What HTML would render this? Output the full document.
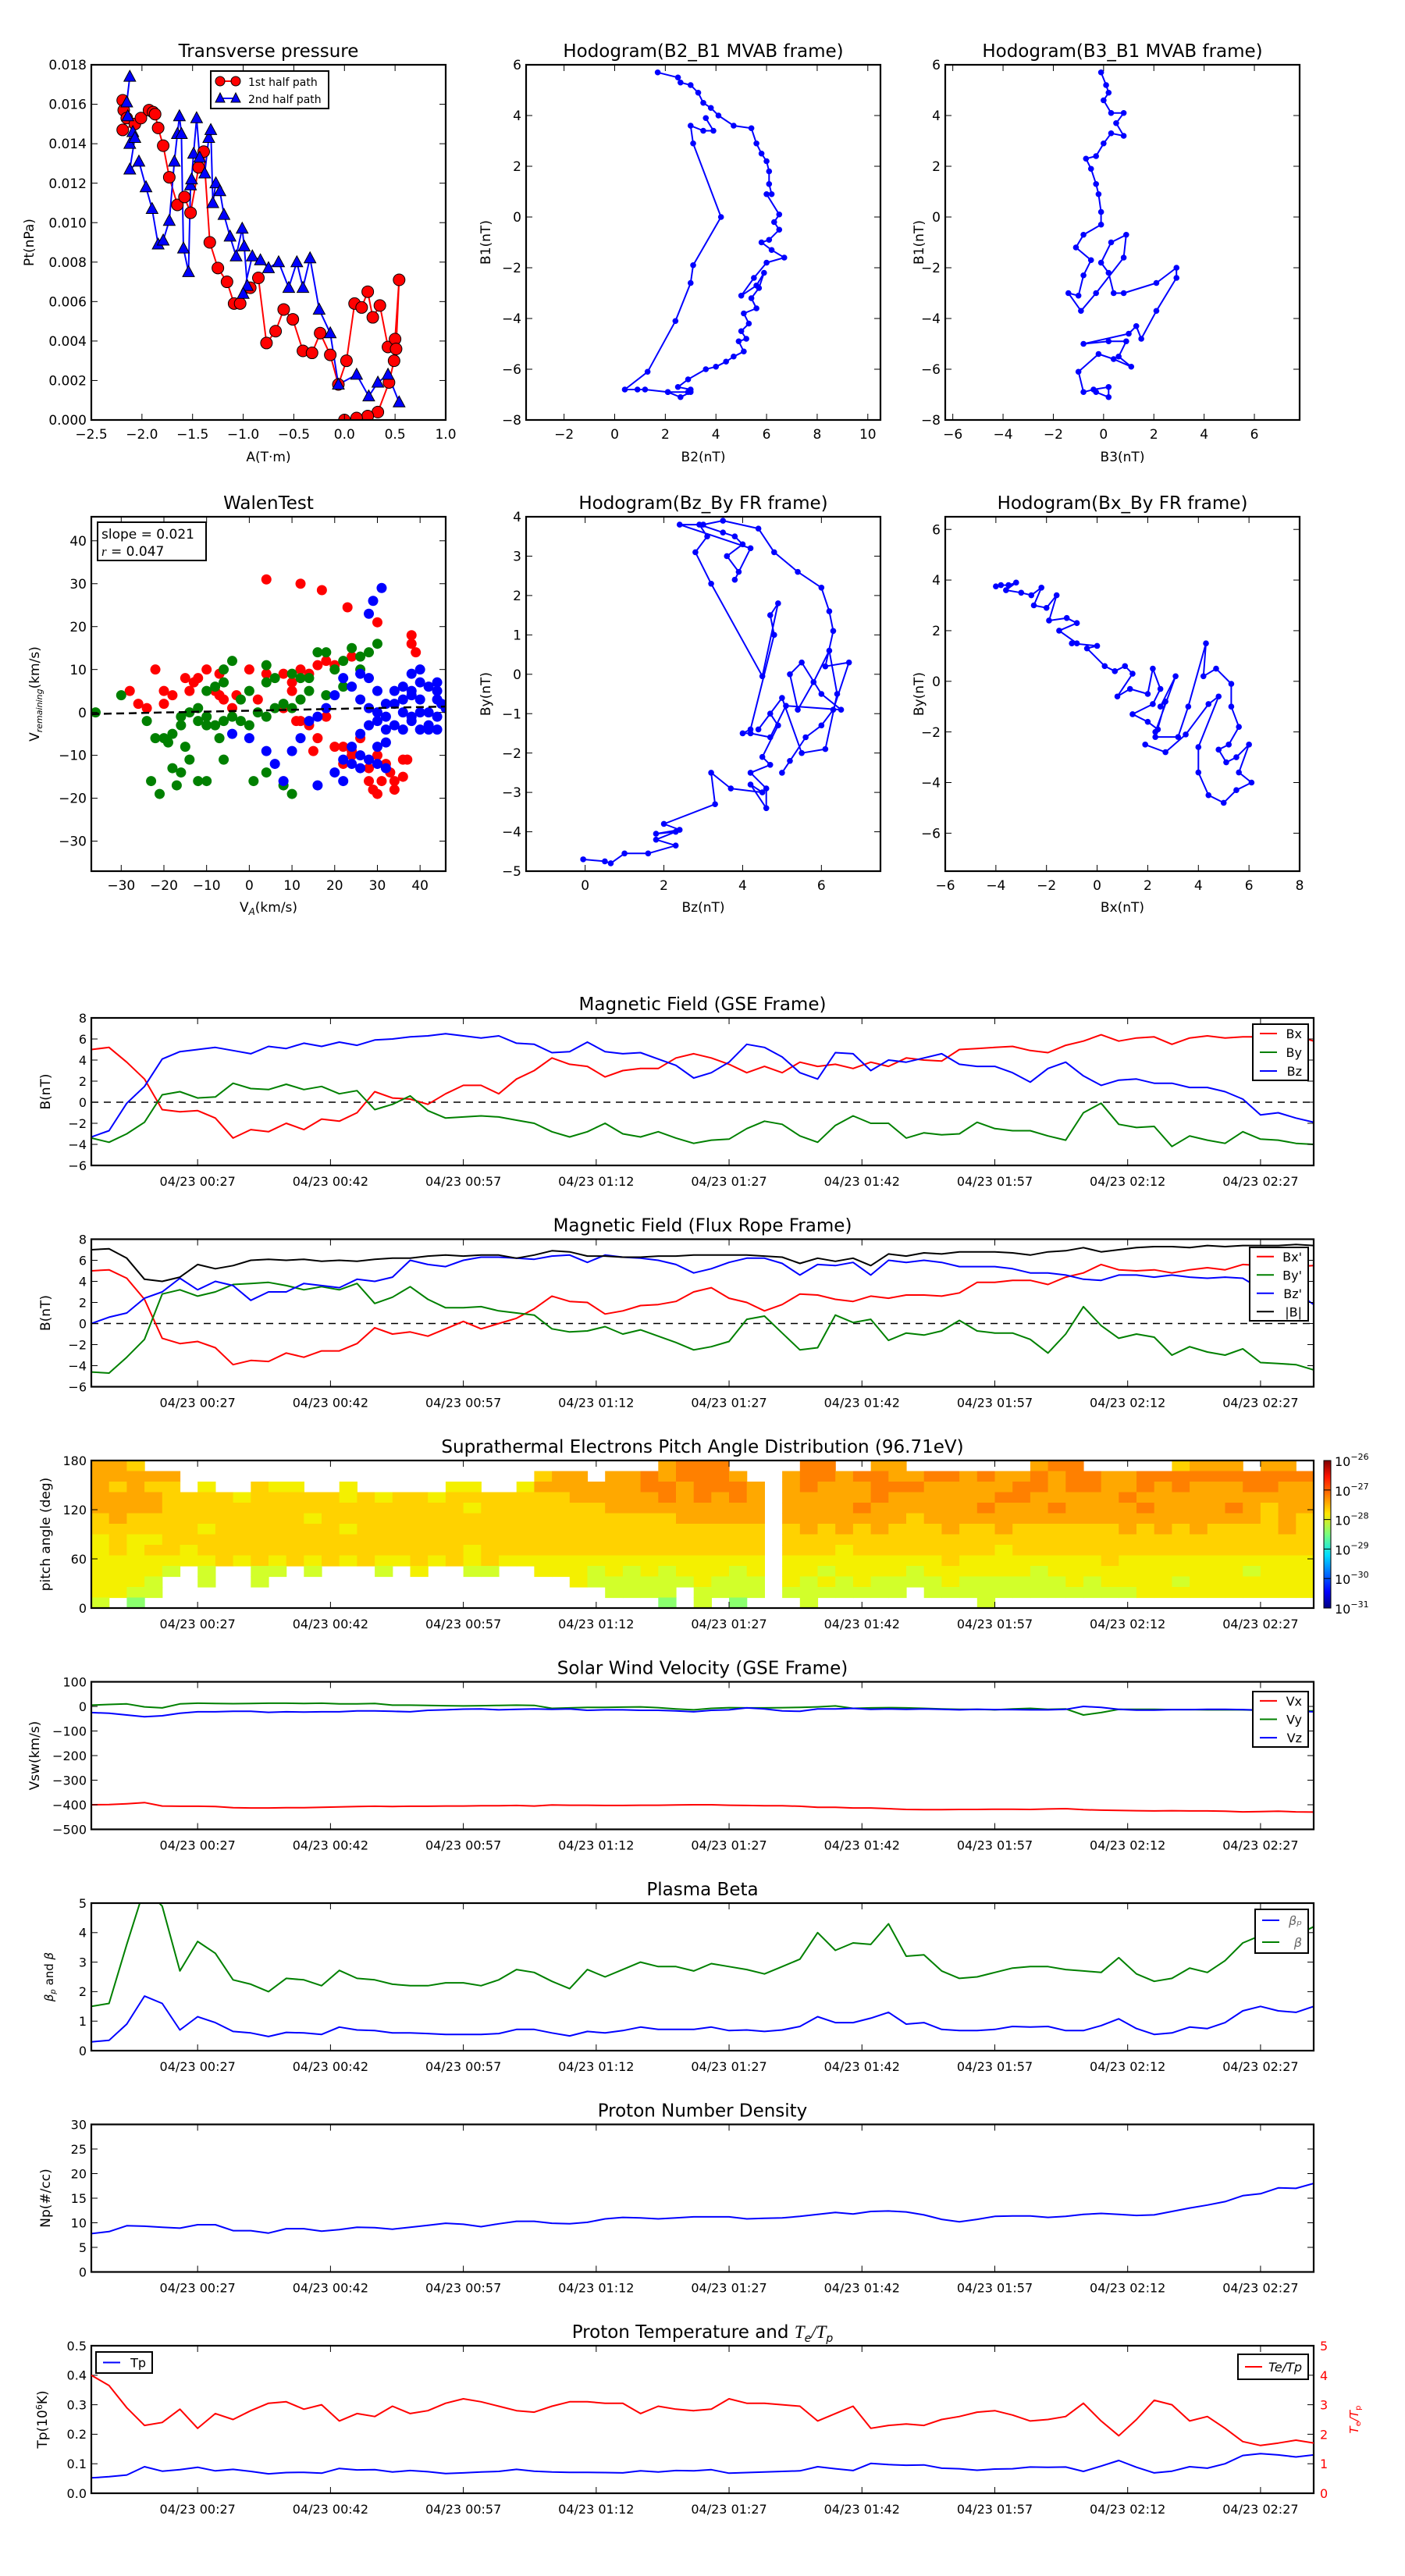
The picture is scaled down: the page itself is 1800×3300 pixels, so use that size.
<!DOCTYPE html>
<html><head><meta charset="utf-8">
<style>
html,body{margin:0;padding:0;background:#fff;}
svg{display:block;font-family:"DejaVu Sans","Liberation Sans",sans-serif;}
</style></head>
<body>
<svg id="fig" width="1800" height="3300" viewBox="0 0 1800 3300" xmlns="http://www.w3.org/2000/svg">
<rect x="0" y="0" width="1800" height="3300" fill="#fff"/>
<defs>
<linearGradient id="jet" x1="0" y1="1" x2="0" y2="0">
<stop offset="0" stop-color="#00007f"/><stop offset="0.11" stop-color="#0000ff"/><stop offset="0.36" stop-color="#00dfff"/><stop offset="0.5" stop-color="#7aff7d"/><stop offset="0.64" stop-color="#ffe600"/><stop offset="0.89" stop-color="#ff1300"/><stop offset="1" stop-color="#7f0000"/>
</linearGradient>
</defs>
</svg>
<script>
// ---------- time-series data (2-minute samples starting 04/23 00:15) ----------
const timeStepMin = 2;
const timeTickLabels = ["04/23 00:27","04/23 00:42","04/23 00:57","04/23 01:12","04/23 01:27","04/23 01:42","04/23 01:57","04/23 02:12","04/23 02:27"];
const timeTickMin = [12,27,42,57,72,87,102,117,132];
const gseBx = [5,5.2,3.8,2.2,-0.7,-0.9,-0.8,-1.5,-3.4,-2.6,-2.8,-2,-2.6,-1.6,-1.8,-1,1,0.4,0.3,-0.2,0.8,1.6,1.6,0.8,2.2,3,4.2,3.6,3.4,2.4,3,3.2,3.2,4.2,4.6,4.2,3.6,2.8,3.4,2.8,3.8,3.4,3.6,3.2,3.8,3.4,4.2,4,3.9,5,5.1,5.2,5.3,4.9,4.7,5.4,5.8,6.4,5.8,6.1,6.2,5.5,6.1,6.3,6.1,6.2,6.2,5.9,6.3,5.8];
const gseBy = [-3.4,-3.8,-3.0,-1.9,0.7,1.0,0.4,0.5,1.8,1.3,1.2,1.7,1.2,1.5,0.8,1.1,-0.7,-0.2,0.6,-0.8,-1.5,-1.4,-1.3,-1.4,-1.7,-2,-2.8,-3.3,-2.8,-2.0,-3.0,-3.3,-2.8,-3.4,-3.9,-3.6,-3.5,-2.5,-1.8,-2.1,-3.2,-3.8,-2.2,-1.3,-2.0,-2.0,-3.4,-2.9,-3.1,-3.0,-1.9,-2.5,-2.7,-2.7,-3.2,-3.6,-1.0,-0.1,-2.1,-2.4,-2.3,-4.2,-3.2,-3.6,-3.9,-2.8,-3.5,-3.6,-3.9,-4.0];
const gseBz = [-3.3,-2.7,-0.1,1.5,4.1,4.8,5.0,5.2,4.9,4.6,5.3,5.1,5.6,5.3,5.7,5.4,5.9,6.0,6.2,6.3,6.5,6.3,6.1,6.3,5.6,5.5,4.7,4.8,5.7,4.8,4.6,4.7,4.1,3.5,2.3,2.8,3.8,5.5,5.2,4.3,2.8,2.2,4.7,4.6,3.0,4.0,3.8,4.2,4.6,3.6,3.4,3.4,2.8,1.9,3.2,3.8,2.5,1.6,2.1,2.2,1.8,1.8,1.4,1.4,1.0,0.3,-1.2,-1.0,-1.5,-1.9];
const frBx = [5,5.1,4.3,2.3,-1.4,-1.9,-1.7,-2.3,-3.9,-3.5,-3.6,-2.8,-3.2,-2.6,-2.6,-1.9,-0.4,-1.0,-0.8,-1.2,-0.5,0.2,-0.5,0.0,0.5,1.4,2.6,2.1,2.0,0.9,1.2,1.7,1.8,2.1,3.0,3.4,2.4,2.0,1.2,1.8,2.8,2.7,2.3,2.1,2.6,2.4,2.7,2.7,2.6,2.9,3.9,3.9,4.1,4.1,3.7,4.4,4.8,5.6,5.1,5.0,5.1,4.8,5.1,5.3,5.1,5.6,5.5,6.0,5.4,5.5];
const frBy = [-4.6,-4.7,-3.2,-1.5,2.8,3.2,2.6,3.0,3.7,3.8,3.9,3.6,3.2,3.5,3.2,3.8,1.9,2.5,3.5,2.3,1.5,1.5,1.6,1.2,1.0,0.8,-0.5,-0.8,-0.7,-0.3,-1.0,-0.6,-1.2,-1.8,-2.5,-2.2,-1.7,0.4,0.7,-0.9,-2.5,-2.3,0.8,0.1,0.4,-1.6,-0.9,-1.1,-0.7,0.3,-0.7,-0.9,-0.9,-1.5,-2.8,-1.0,1.6,-0.2,-1.4,-1.0,-1.3,-3.0,-2.2,-2.7,-3.0,-2.4,-3.7,-3.8,-3.9,-4.4];
const frBz = [0,0.6,1,2.4,3,4.3,3.2,4,3.6,2.2,3,3,3.8,3.6,3.4,4.2,4,4.4,6,5.6,5.4,6,6.3,6.3,6.2,6.1,6.4,6.5,5.8,6.5,6.3,6.2,6,5.6,4.8,5.2,5.8,6.2,6.2,5.7,4.6,5.6,5.5,5.8,4.6,6,5.8,6,5.8,5.4,5.4,5.4,5.2,4.8,4.8,4.6,4.2,4.1,4.6,4.6,4.4,4.6,4.4,4.3,4.4,4.3,3.3,3.4,3,1.8];
const frBt = [7,7.1,6.2,4.2,4,4.4,5.6,5.2,5.5,6,6.1,6,6.1,5.9,6,5.9,6.1,6.2,6.2,6.4,6.5,6.4,6.5,6.5,6.2,6.5,6.9,6.8,6.4,6.4,6.3,6.3,6.4,6.4,6.5,6.5,6.5,6.5,6.4,6.3,5.7,6.2,5.9,6.2,5.5,6.6,6.4,6.7,6.6,6.8,6.8,6.8,6.7,6.5,6.8,6.9,7.2,6.8,7,7.2,7.3,7.3,7.2,7.4,7.3,7.4,7.4,7.4,7.5,7.4];
const velVx = [-400,-399,-396,-391,-405,-406,-406,-407,-412,-413,-413,-412,-412,-410,-409,-407,-406,-407,-406,-406,-405,-405,-404,-404,-403,-405,-401,-402,-402,-403,-403,-402,-402,-401,-400,-400,-402,-403,-404,-404,-406,-410,-410,-413,-413,-416,-419,-420,-420,-419,-419,-418,-418,-419,-417,-416,-420,-422,-423,-424,-425,-424,-425,-425,-426,-429,-428,-426,-429,-430];
const velVy = [5,8,10,-2,-6,10,13,12,11,12,13,13,12,13,10,10,12,5,5,4,3,2,3,4,5,4,-8,-6,-4,-4,-3,-2,-5,-10,-14,-8,-5,-6,-6,-5,-4,-2,2,-8,-6,-5,-6,-8,-10,-12,-12,-14,-10,-8,-12,-10,-35,-25,-12,-12,-12,-13,-13,-14,-14,-14,-16,-18,-18,-18];
const velVz = [-25,-28,-35,-42,-38,-28,-22,-22,-20,-20,-24,-22,-23,-22,-22,-18,-18,-20,-22,-16,-14,-11,-10,-14,-12,-10,-12,-10,-16,-14,-14,-16,-16,-18,-22,-16,-14,-6,-10,-18,-20,-10,-10,-8,-12,-10,-12,-10,-12,-14,-12,-13,-13,-14,-14,-12,0,-4,-12,-15,-15,-13,-13,-12,-12,-13,-15,-18,-20,-22];
const betaP = [0.3,0.35,0.9,1.85,1.6,0.7,1.15,0.95,0.65,0.6,0.48,0.62,0.6,0.55,0.8,0.7,0.68,0.6,0.6,0.58,0.55,0.55,0.55,0.58,0.72,0.72,0.6,0.5,0.65,0.6,0.68,0.8,0.72,0.72,0.72,0.8,0.68,0.7,0.65,0.7,0.82,1.15,0.95,0.95,1.1,1.3,0.9,0.95,0.72,0.68,0.68,0.72,0.82,0.8,0.82,0.68,0.68,0.85,1.08,0.75,0.55,0.6,0.8,0.75,0.95,1.35,1.5,1.35,1.3,1.5];
const betaT = [1.5,1.6,3.6,5.5,4.9,2.7,3.7,3.3,2.4,2.25,2.0,2.45,2.4,2.2,2.72,2.45,2.4,2.25,2.2,2.2,2.3,2.3,2.2,2.4,2.75,2.65,2.35,2.1,2.75,2.5,2.75,3.0,2.85,2.85,2.7,2.95,2.85,2.75,2.6,2.85,3.1,4.0,3.4,3.65,3.6,4.3,3.2,3.25,2.7,2.45,2.5,2.65,2.8,2.85,2.85,2.75,2.7,2.65,3.15,2.6,2.35,2.45,2.8,2.65,3.05,3.65,3.9,4.0,3.9,4.2];
const densNp = [7.8,8.2,9.4,9.3,9.1,8.9,9.6,9.6,8.4,8.4,7.9,8.8,8.8,8.3,8.6,9.1,9.0,8.7,9.1,9.5,9.9,9.7,9.2,9.8,10.3,10.3,9.9,9.8,10.1,10.8,11.1,11.0,10.8,11.0,11.2,11.2,11.2,10.8,10.9,11.0,11.3,11.7,12.1,11.8,12.3,12.4,12.2,11.6,10.7,10.2,10.7,11.3,11.4,11.4,11.1,11.3,11.7,11.9,11.7,11.5,11.6,12.3,13.0,13.6,14.3,15.5,15.9,17.1,17.0,18];
const tempTp = [0.052,0.056,0.062,0.09,0.075,0.08,0.088,0.076,0.081,0.074,0.066,0.07,0.071,0.068,0.084,0.079,0.08,0.072,0.077,0.073,0.067,0.069,0.072,0.074,0.081,0.075,0.072,0.071,0.071,0.07,0.069,0.076,0.072,0.077,0.076,0.08,0.068,0.07,0.072,0.074,0.076,0.09,0.083,0.077,0.101,0.097,0.095,0.096,0.085,0.083,0.078,0.082,0.083,0.089,0.088,0.089,0.074,0.092,0.111,0.088,0.069,0.075,0.09,0.085,0.1,0.128,0.134,0.13,0.123,0.13];
const tempRatio = [4.0,3.65,2.9,2.3,2.4,2.85,2.2,2.7,2.5,2.8,3.05,3.1,2.85,3.0,2.45,2.7,2.6,2.95,2.7,2.8,3.05,3.2,3.1,2.95,2.8,2.75,2.95,3.1,3.1,3.05,3.05,2.7,2.95,2.85,2.8,2.85,3.2,3.05,3.05,3.0,2.95,2.45,2.7,2.95,2.2,2.3,2.35,2.3,2.5,2.6,2.75,2.8,2.65,2.45,2.5,2.6,3.05,2.45,1.95,2.5,3.15,3.0,2.45,2.6,2.2,1.75,1.62,1.7,1.8,1.7];
// Pitch-angle distribution: 2-min columns, rows top (167-180 deg) to bottom (0-13 deg); digit = flux level (0 = no data)
const padRows = [
 ["5540","000000000000000000000","0000000566600","0","066005500000005660000045550550"],
 ["5555","500000000000000000000","4550556566650","0","566566556656556566556666666666"],
 ["5454","403004330030000033003","5555556656665","0","565556665555566566556565556655"],
 ["5555","444434444434344344444","4455555656565","0","555556555555665555565555555555"],
 ["5555","444444444444444443444","4444555555555","0","555565555556555655556555565455"],
 ["4544","444444443444444444444","4444444455555","0","555555545555555555555555555454"],
 ["4444","443444444434444444444","4444444444444","0","454545444544544444454545444454"],
 ["3433","444444444444444444444","4444444444444","0","444444444444444444444444444444"],
 ["3434","434444444444444443444","4444444444444","0","444344444444344444444444444444"],
 ["3333","333434343434334343433","3333333333333","0","333333333433333333433333333333"],
 ["3333","202002202000203002200","3332323233323","0","332333323333332333333333332333"],
 ["3332","002002000000000000000","0032222223222","0","323232222322222232333323333333"],
 ["3322","000000000000000000000","0000222202222","0","222222202222222222223333333333"],
 ["2010","000000000000000000000","0000000102010","0","020000000002000000000000000000"]
];
const padColors = ["none","#8aff6e","#d2ff2a","#f4f000","#ffd200","#ffa800","#ff8000","#ff5000"];
const padTicks = [0,60,120,180];
const cbLabels = ["-26","-27","-28","-29","-30","-31"];

// ---------- top-panel data ----------
const ptHalf1A = [-2.19,-2.18,-2.15,-2.19,-2.07,-2.01,-1.93,-1.89,-1.87,-1.84,-1.79,-1.73,-1.65,-1.58,-1.52,-1.44,-1.39,-1.33,-1.25,-1.16,-1.09,-1.03,-0.93,-0.85,-0.77,-0.68,-0.6,-0.51,-0.41,-0.32,-0.24,-0.14,-0.06,0.02,0.1,0.17,0.23,0.28,0.35,0.43,0.5,0.54,0.51,0.49,0.44,0.33,0.23,0.12,0.0];
const ptHalf1P = [0.0162,0.0157,0.0153,0.0147,0.015,0.0153,0.0157,0.0156,0.0155,0.0148,0.0139,0.0123,0.0109,0.0113,0.0105,0.0128,0.0136,0.009,0.0077,0.007,0.0059,0.0059,0.0067,0.0072,0.0039,0.0045,0.0056,0.0051,0.0035,0.0034,0.0044,0.0033,0.0018,0.003,0.0059,0.0057,0.0065,0.0052,0.0058,0.0037,0.0041,0.0071,0.0036,0.003,0.0019,0.0004,0.0002,0.0001,0.0];
const ptHalf2A = [-2.12,-2.15,-2.14,-2.09,-2.12,-2.07,-2.12,-2.03,-1.96,-1.9,-1.84,-1.79,-1.73,-1.68,-1.65,-1.63,-1.61,-1.59,-1.54,-1.52,-1.51,-1.49,-1.46,-1.43,-1.38,-1.34,-1.32,-1.3,-1.27,-1.23,-1.19,-1.13,-1.07,-1.01,-0.99,-0.96,-1.0,-0.91,-0.83,-0.75,-0.65,-0.55,-0.47,-0.41,-0.34,-0.25,-0.14,-0.06,0.12,0.24,0.33,0.43,0.54];
const ptHalf2P = [0.0174,0.0161,0.0154,0.0146,0.014,0.0143,0.0127,0.0131,0.0118,0.0107,0.0089,0.0091,0.0101,0.0131,0.0145,0.0154,0.0145,0.0087,0.0075,0.0119,0.0122,0.0135,0.0153,0.0133,0.0125,0.0143,0.0147,0.011,0.012,0.0116,0.0104,0.0093,0.0083,0.0097,0.0088,0.0068,0.0064,0.0083,0.0081,0.0077,0.008,0.0067,0.008,0.0067,0.0082,0.0056,0.0044,0.0018,0.0023,0.0012,0.0019,0.0023,0.0009];
const hodoB2 = [1.7,2.5,2.6,3.0,3.3,3.5,3.8,4.1,4.7,5.4,5.6,5.8,6.0,6.1,6.1,6.2,6.0,6.5,6.3,6.5,6.1,5.8,6.2,6.7,6.0,5.5,5.0,5.6,5.9,5.7,5.4,5.6,5.1,5.3,5.0,5.2,4.9,5.1,4.7,4.4,4.0,3.6,2.9,2.5,3.0,2.9,2.1,2.6,3.0,2.1,1.2,0.9,0.4,1.3,2.4,3.0,3.1,4.2,3.1,3.0,3.5,3.9,3.6];
const hodoB1 = [5.7,5.5,5.3,5.2,4.9,4.5,4.3,4.0,3.6,3.5,2.9,2.5,2.2,1.8,1.3,0.9,0.9,0.1,-0.2,-0.5,-0.9,-1.0,-1.3,-1.6,-1.8,-2.4,-3.1,-2.7,-2.2,-2.8,-3.2,-3.6,-3.8,-4.2,-4.5,-4.8,-4.9,-5.3,-5.5,-5.7,-5.9,-6.0,-6.4,-6.7,-6.8,-6.9,-6.9,-7.1,-6.9,-6.9,-6.8,-6.8,-6.8,-6.1,-4.1,-2.6,-1.9,0.0,2.9,3.6,3.4,3.4,3.9];
const hodoB3 = [-0.1,0.1,0.2,0,0.3,0.8,0.5,0.8,0.3,0,-0.3,-0.7,-0.5,-0.3,-0.2,-0.1,-0.1,-0.8,-1.1,-0.5,-0.8,-1.0,-1.4,-0.9,-0.3,0.8,0.9,0.3,-0.1,0.2,0.4,0.8,2.1,2.9,2.9,2.1,1.5,1.3,1.0,-0.8,0.2,0.9,0.6,1.1,0.4,-0.2,-1.0,-0.8,-0.4,0.2,0.2,-0.3];
const hodoB1b = [5.7,5.2,4.9,4.6,4.1,4.1,3.7,3.2,3.3,2.9,2.4,2.3,1.9,1.3,0.9,0.2,-0.3,-0.7,-1.2,-1.7,-2.3,-3.1,-3.0,-3.7,-3.0,-1.6,-0.7,-1.0,-1.8,-2.2,-3.0,-3.0,-2.6,-2.0,-2.4,-3.7,-4.8,-4.3,-4.6,-5.0,-4.9,-4.9,-5.5,-5.9,-5.6,-5.4,-6.1,-6.9,-6.8,-6.7,-7.1,-6.9];
const walenRedVA = [4,12,17,23,30,38,38,39,-22,-10,-15,-20,-18,-28,-26,-24,-20,-13,-14,-12,-7,-8,-6,0,4,8,10,12,14,16,18,20,24,2,10,8,12,14,16,15,20,22,24,26,24,22,28,28,29,30,31,33,34,34,36,32,30,36,37,18,-7,-3,-4,11];
const walenRedV = [31,30,28.5,24.5,21,18,16,14,10,10,8,5,4,5,2,1,2,7,5,8,9,5,3,10,9,9,7,10,9,11,12,11,13,3,5,1,-2,-3,-6,-9,-8,-8,-9,-6,-10,-12,-13,-16,-18,-19,-16,-14,-16,-18,-15,-12,-10,-11,-11,-1,4,4,1,-2];
const walenGreenVA = [-30,-36,-24,-22,-20,-18,-16,-19,-15,-14,-16,-18,-23,-21,-17,-12,-10,-12,-10,-8,-6,-4,-7,-6,-2,0,2,4,6,8,10,1,4,8,10,-6,-4,-8,-10,-6,4,6,10,12,14,16,18,20,22,24,26,28,30,26,22,18,14,12,4,0,-2,-12,-14,-16,-10];
const walenGreenV = [4,0,-2,-6,-6,-5,-3,-7,-8,-11,-14,-13,-16,-19,-17,-16,-16,-2,-3,-3,-2,-1,-6,-11,-2,-3,0,-1,1,2,1,-16,-14,-17,-19,10,12,6,5,7,11,8,9,8,8,14,14,10,12,15,13,14,16,10,6,4,5,3,7,5,3,1,0,-1,-1];
const walenBlueVA = [31,29,28,26,28,30,22,24,20,18,16,26,28,30,32,34,36,38,40,42,44,45,44,42,40,38,36,34,32,30,38,40,36,42,44,40,38,34,32,28,26,24,22,20,24,26,28,30,32,26,22,16,12,10,6,4,0,-4,8,14,44,42,38,36,40,44,46,30,32];
const walenBlueV = [29,26,23,9,8,5,8,6,4,1,-1,3,1,0,-1,2,3,5,7,6,5,2,-1,-3,-4,-2,0,-3,-4,-2,9,3,-4,0,7,0,-1,5,2,-3,-5,-8,-11,-14,-12,-10,-11,-12,-13,-13,-16,-17,-6,-9,-12,-9,-6,-5,-16,-2,-4,-4,4,6,10,3,1,-8,-7];
const walenFit = [-37,46];
const walenSlope = 0.021;
const walenIntercept = 0.4;
const hodoFrBz = [-0.05,0.5,0.65,1.0,1.6,2.3,1.8,2.3,1.8,2.4,2.0,3.3,3.2,3.7,4.5,4.2,4.6,4.6,4.2,4.7,4.5,4.9,4.7,4.4,5.0,5.5,6.1,6.4,6.2,5.8,5.4,5.2,5.5,6.0,6.5,5.1,4.7,4.2,4.0,4.2,4.8,4.7,4.9,4.5,3.2,2.8,3.1,2.9,3.5,3.8,4.0,3.6,3.9,3.8,4.2,2.4,3.0,3.5,4.4,4.8,5.4,6.0,6.2,6.3,6.1,6.7,6.3,6.0,5.6,5.2,5.0];
const hodoFrBy = [-4.7,-4.75,-4.8,-4.55,-4.55,-4.35,-4.2,-4.0,-4.05,-3.95,-3.8,-3.3,-2.5,-2.9,-3.0,-2.8,-3.4,-2.9,-2.5,-2.3,-2.1,-1.3,-1.0,-1.4,-0.6,-2.0,-1.9,-0.5,0.6,-0.2,-0.9,0.0,0.3,-0.5,-0.9,-0.8,-1.6,-1.5,-1.5,-1.4,1.0,1.5,1.8,-0.05,2.3,3.1,3.5,3.8,3.6,3.5,3.3,3.0,2.6,2.4,3.2,3.8,3.8,3.9,3.7,3.1,2.6,2.2,1.6,1.1,0.2,0.3,-0.9,-1.3,-1.6,-2.2,-2.5];
const hodoFrBx = [-4,-3.8,-3.5,-3.2,-3.6,-3,-2.6,-2.2,-2.5,-2,-1.6,-1.9,-1.2,-0.8,-1.5,-0.8,-1,0,-0.4,0.3,0.7,1.1,1.4,0.8,1.3,2,2.2,2.5,2.2,1.4,2.0,2.4,2.3,3.1,2.5,2.7,2.3,3.2,3.6,4.3,4.2,4.7,5.3,5.3,5.6,5.2,4.8,5.1,5.5,6,5.6,6.1,5.5,5.0,4.4,4.0,4.0,4.8,4.4,3.5,2.7,1.9];
const hodoFrBy2 = [3.75,3.8,3.8,3.9,3.6,3.5,3.4,3.7,3.0,2.9,3.4,2.4,2.5,2.3,2.0,1.5,1.5,1.4,1.3,0.6,0.4,0.6,0.3,-0.6,-0.3,-0.5,0.5,-0.3,-0.9,-1.3,-1.6,-1.9,-2.0,0.2,-1,-0.8,-2.2,-2.2,-1,1.5,0.2,0.5,-0.1,-1,-1.8,-2.5,-2.7,-3.2,-3,-2.5,-3.6,-4,-4.3,-4.8,-4.5,-3.6,-2.6,-0.6,-0.9,-2.1,-2.8,-2.5];

// ---------- helpers ----------
const NS = 'http://www.w3.org/2000/svg';
const svg = document.getElementById('fig');
let clipN = 0;
function el(tag, attrs, parent) {
  const e = document.createElementNS(NS, tag);
  for (const k in attrs) e.setAttribute(k, attrs[k]);
  (parent || svg).appendChild(e);
  return e;
}
function txt(x, y, s, attrs, parent) {
  const t = el('text', Object.assign({x: x, y: y}, attrs), parent);
  t.textContent = s;
  return t;
}
function makeAxes(name, x0, y0, w, h, xd, yd) {
  const g = el('g', {});
  
  
  const id = 'clip' + (clipN++);
  const cp = el('clipPath', {id: id}, g);
  el('rect', {x: x0, y: y0, width: w, height: h}, cp);
  const plot = el('g', {'clip-path': 'url(#' + id + ')'}, g);
  
  
  return {g: g, plot: plot, x0: x0, y0: y0, w: w, h: h,
    sx: v => x0 + (v - xd[0]) / (xd[1] - xd[0]) * w,
    sy: v => y0 + h - (v - yd[0]) / (yd[1] - yd[0]) * h};
}
function frame(ax) {
  const r = el('rect', {x: ax.x0, y: ax.y0, width: ax.w, height: ax.h, fill: 'none', stroke: '#000', 'stroke-width': 2.2}, ax.g);
  
  
}
function xTicks(ax, vals, labels, fs, dy) {
  vals.forEach((v, i) => {
    const x = ax.sx(v);
    el('line', {x1: x, x2: x, y1: ax.y0 + ax.h, y2: ax.y0 + ax.h - 8, stroke: '#000', 'stroke-width': 1}, ax.g);
    el('line', {x1: x, x2: x, y1: ax.y0, y2: ax.y0 + 8, stroke: '#000', 'stroke-width': 1}, ax.g);
    const t = txt(x, ax.y0 + ax.h + dy, labels[i], {'font-size': fs, 'text-anchor': 'middle'}, ax.g);
    
    
  });
}
function yTicks(ax, vals, labels, fs, color, right) {
  vals.forEach((v, i) => {
    const y = ax.sy(v);
    el('line', {x1: ax.x0, x2: ax.x0 + 8, y1: y, y2: y, stroke: '#000', 'stroke-width': 1}, ax.g);
    el('line', {x1: ax.x0 + ax.w, x2: ax.x0 + ax.w - 8, y1: y, y2: y, stroke: '#000', 'stroke-width': 1}, ax.g);
    const t = right ? txt(ax.x0 + ax.w + 8, y + fs * 0.36, labels[i], {'font-size': fs, 'text-anchor': 'start', fill: color || '#000'}, ax.g)
                    : txt(ax.x0 - 6, y + fs * 0.36, labels[i], {'font-size': fs, 'text-anchor': 'end', fill: color || '#000'}, ax.g);
    
    
  });
}
function title(ax, s, fs) {
  const t = txt(ax.x0 + ax.w / 2, ax.y0 - 10, s, {'font-size': fs || 23, 'text-anchor': 'middle'}, ax.g);
  
  
  return t;
}
function yLabel(ax, s, x, fs, color) {
  const cy = ax.y0 + ax.h / 2;
  const t = txt(x, cy, s, {'font-size': fs || 17, 'text-anchor': 'middle', transform: 'rotate(-90 ' + x + ' ' + cy + ')', fill: color || '#000'}, ax.g);
  
  
  return t;
}
function xLabel(ax, s, y, fs) {
  const t = txt(ax.x0 + ax.w / 2, y, s, {'font-size': fs || 17, 'text-anchor': 'middle'}, ax.g);
  
  
  return t;
}
function polyline(ax, xs, ys, color, name, width) {
  const pts = xs.map((x, i) => ax.sx(x).toFixed(1) + ',' + ax.sy(ys[i]).toFixed(1)).join(' ');
  const p = el('polyline', {points: pts, fill: 'none', stroke: color, 'stroke-width': width || 2, 'stroke-linejoin': 'round'}, ax.plot);
  
  
  return p;
}
function seriesTimes(arr) { return arr.map((_, i) => i * timeStepMin); }
function timeAxis(ax) { xTicks(ax, timeTickMin, timeTickLabels, 16, 26); }
function legendBox(x, y, w, h, items, name) {
  const g = el('g', {});
  
  
  el('rect', {x: x, y: y, width: w, height: h, fill: '#fff', stroke: '#000', 'stroke-width': 2}, g);
  const step = h / items.length;
  items.forEach((it, i) => {
    const cy = y + step * (i + 0.5);
    const e = el('g', {}, g);
    
    
    el('line', {x1: x + 9, x2: x + 31, y1: cy, y2: cy, stroke: it.c, 'stroke-width': 2}, e);
    const t = txt(x + w - 8, cy + 6, it.t, {'font-size': it.fs || 16, 'text-anchor': 'end', 'font-style': it.it ? 'italic' : 'normal', fill: it.tc || '#000'}, e);
  });
  return g;
}

// ---------- top row ----------
const TW = 454, R1Y = 83, R1H = 455, R2Y = 662, R2H = 454;
// Transverse pressure
(function () {
  const ax = makeAxes('transverse-pressure-chart', 117, R1Y, TW, R1H, [-2.5, 1.0], [0, 0.018]);
  polyline(ax, ptHalf1A, ptHalf1P, '#ff0000', 'first-half-path-line', 2);
  polyline(ax, ptHalf2A, ptHalf2P, '#0000ff', 'second-half-path-line', 2);
  ptHalf1A.forEach((a, i) => {
    const c = el('circle', {cx: ax.sx(a), cy: ax.sy(ptHalf1P[i]), r: 7.5, fill: '#ff0000', stroke: '#000', 'stroke-width': 1}, ax.plot);
    
    
  });
  ptHalf2A.forEach((a, i) => {
    const x = ax.sx(a), y = ax.sy(ptHalf2P[i]);
    const p = el('polygon', {points: (x) + ',' + (y - 8) + ' ' + (x - 7.5) + ',' + (y + 6) + ' ' + (x + 7.5) + ',' + (y + 6), fill: '#0000ff', stroke: '#000', 'stroke-width': 1}, ax.plot);
    
    
  });
  frame(ax);
  xTicks(ax, [-2.5, -2.0, -1.5, -1.0, -0.5, 0.0, 0.5, 1.0], ['\u22122.5', '\u22122.0', '\u22121.5', '\u22121.0', '\u22120.5', '0.0', '0.5', '1.0'], 17, 24);
  const yv = [0, 0.002, 0.004, 0.006, 0.008, 0.010, 0.012, 0.014, 0.016, 0.018];
  yTicks(ax, yv, yv.map(v => v.toFixed(3)), 17);
  title(ax, 'Transverse pressure');
  xLabel(ax, 'A(T\u00b7m)', 591);
  yLabel(ax, 'Pt(nPa)', 43);
  const lg = el('g', {}, ax.g);
  
  
  el('rect', {x: 270, y: 91, width: 151, height: 48, fill: '#fff', stroke: '#000', 'stroke-width': 2}, lg);
  el('line', {x1: 282, x2: 302, y1: 104, y2: 104, stroke: '#f00', 'stroke-width': 2}, lg);
  el('circle', {cx: 282, cy: 104, r: 6, fill: '#f00', stroke: '#000'}, lg);
  el('circle', {cx: 302, cy: 104, r: 6, fill: '#f00', stroke: '#000'}, lg);
  txt(318, 110, '1st half path', {'font-size': 14}, lg);
  el('line', {x1: 282, x2: 302, y1: 126, y2: 126, stroke: '#00f', 'stroke-width': 2}, lg);
  el('polygon', {points: '282,119 276,131 288,131', fill: '#00f', stroke: '#000'}, lg);
  el('polygon', {points: '302,119 296,131 308,131', fill: '#00f', stroke: '#000'}, lg);
  txt(318, 132, '2nd half path', {'font-size': 14}, lg);
})();

function hodogram(name, x0, y0, h, xd, yd, xs, ys, xt, yt, ttl, xl, yl, ylx, xlY, tickDy) {
  const ax = makeAxes(name, x0, y0, TW, h, xd, yd);
  polyline(ax, xs, ys, '#0000ff', 'hodogram-path', 2);
  xs.forEach((x, i) => {
    const c = el('circle', {cx: ax.sx(x), cy: ax.sy(ys[i]), r: 3.8, fill: '#0000ff'}, ax.plot);
    
    
  });
  frame(ax);
  xTicks(ax, xt, xt.map(v => v < 0 ? '\u2212' + (-v) : '' + v), 17, tickDy);
  yTicks(ax, yt, yt.map(v => v < 0 ? '\u2212' + (-v) : '' + v), 17);
  title(ax, ttl);
  xLabel(ax, xl, xlY);
  yLabel(ax, yl, ylx);
}
hodogram('hodogram-b2-b1-mvab', 674, R1Y, R1H, [-3.5, 10.5], [-8, 6], hodoB2, hodoB1, [-2, 0, 2, 4, 6, 8, 10], [-8, -6, -4, -2, 0, 2, 4, 6], 'Hodogram(B2_B1 MVAB frame)', 'B2(nT)', 'B1(nT)', 628, 591, 24);
hodogram('hodogram-b3-b1-mvab', 1211, R1Y, R1H, [-6.3, 7.8], [-8, 6], hodoB3, hodoB1b, [-6, -4, -2, 0, 2, 4, 6], [-8, -6, -4, -2, 0, 2, 4, 6], 'Hodogram(B3_B1 MVAB frame)', 'B3(nT)', 'B1(nT)', 1183, 591, 24);
hodogram('hodogram-bz-by-fr', 674, R2Y, R2H, [-1.5, 7.5], [-5, 4], hodoFrBz, hodoFrBy, [0, 2, 4, 6], [-5, -4, -3, -2, -1, 0, 1, 2, 3, 4], 'Hodogram(Bz_By FR frame)', 'Bz(nT)', 'By(nT)', 628, 1168, 24);
hodogram('hodogram-bx-by-fr', 1211, R2Y, R2H, [-6, 8], [-7.5, 6.5], hodoFrBx, hodoFrBy2, [-6, -4, -2, 0, 2, 4, 6, 8], [-6, -4, -2, 0, 2, 4, 6], 'Hodogram(Bx_By FR frame)', 'Bx(nT)', 'By(nT)', 1183, 1168, 24);

// Walen test
(function () {
  const ax = makeAxes('walen-test-chart', 117, R2Y, TW, R2H, [-37, 46], [-37, 45.6]);
  const groups = [[walenRedVA, walenRedV, '#ff0000', 'walen-red-point'], [walenGreenVA, walenGreenV, '#008000', 'walen-green-point'], [walenBlueVA, walenBlueV, '#0000ff', 'walen-blue-point']];
  groups.forEach(gr => {
    gr[0].forEach((x, i) => {
      const c = el('circle', {cx: ax.sx(x), cy: ax.sy(gr[1][i]), r: 6.5, fill: gr[2]}, ax.plot);
      
      
    });
  });
  const fit = el('line', {x1: ax.sx(walenFit[0]), y1: ax.sy(walenFit[0] * walenSlope + walenIntercept), x2: ax.sx(walenFit[1]), y2: ax.sy(walenFit[1] * walenSlope + walenIntercept), stroke: '#000', 'stroke-width': 2.5, 'stroke-dasharray': '10,6'}, ax.plot);
  
  
  frame(ax);
  const xt = [-30, -20, -10, 0, 10, 20, 30, 40];
  xTicks(ax, xt, xt.map(v => v < 0 ? '\u2212' + (-v) : '' + v), 17, 24);
  const yt = [-30, -20, -10, 0, 10, 20, 30, 40];
  yTicks(ax, yt, yt.map(v => v < 0 ? '\u2212' + (-v) : '' + v), 17);
  title(ax, 'WalenTest');
  const xl = xLabel(ax, '', 1168);
  xl.innerHTML = 'V<tspan font-style="italic" font-size="12" dy="4">A</tspan><tspan dy="-4">(km/s)</tspan>';
  const yl = yLabel(ax, '', 50);
  yl.innerHTML = 'V<tspan font-style="italic" font-size="11" dy="4">remaining</tspan><tspan dy="-4">(km/s)</tspan>';
  const box = el('g', {}, ax.g);
  
  
  el('rect', {x: 125, y: 669, width: 139, height: 49, fill: '#fff', stroke: '#000', 'stroke-width': 2}, box);
  txt(130, 690, 'slope = 0.021', {'font-size': 17}, box);
  const r = txt(130, 712, '', {'font-size': 17}, box);
  r.innerHTML = '<tspan font-style="italic" font-family="Liberation Serif, serif">r</tspan> = 0.047';
})();

// ---------- time series panels ----------
const TSX = 117, TSW = 1566, TSH = 189, TSTOP = 1304, TSSTEP = 283.5;
const TDOM = [0, 138];
function tsAxes(name, k, yd) { return makeAxes(name, TSX, TSTOP + TSSTEP * k, TSW, TSH, TDOM, yd); }
function zeroLine(ax) {
  const z = el('line', {x1: ax.x0, x2: ax.x0 + ax.w, y1: ax.sy(0), y2: ax.sy(0), stroke: '#000', 'stroke-width': 1.5, 'stroke-dasharray': '9,7'}, ax.plot);
  
  
}
const bTicks = [-6, -4, -2, 0, 2, 4, 6, 8];
const bTickLabels = bTicks.map(v => v < 0 ? '\u2212' + (-v) : '' + v);

// Magnetic field GSE
(function () {
  const ax = tsAxes('magnetic-field-gse-chart', 0, [-6, 8]);
  zeroLine(ax);
  polyline(ax, seriesTimes(gseBx), gseBx, '#ff0000', 'bx-line');
  polyline(ax, seriesTimes(gseBy), gseBy, '#008000', 'by-line');
  polyline(ax, seriesTimes(gseBz), gseBz, '#0000ff', 'bz-line');
  frame(ax); timeAxis(ax); yTicks(ax, bTicks, bTickLabels, 16);
  title(ax, 'Magnetic Field (GSE Frame)');
  yLabel(ax, 'B(nT)', 64);
  legendBox(1605, 1312, 71, 72, [{c: '#f00', t: 'Bx'}, {c: '#008000', t: 'By'}, {c: '#00f', t: 'Bz'}], 'legend');
})();
// Magnetic field flux rope
(function () {
  const ax = tsAxes('magnetic-field-flux-rope-chart', 1, [-6, 8]);
  zeroLine(ax);
  polyline(ax, seriesTimes(frBx), frBx, '#ff0000', 'bx-prime-line');
  polyline(ax, seriesTimes(frBy), frBy, '#008000', 'by-prime-line');
  polyline(ax, seriesTimes(frBz), frBz, '#0000ff', 'bz-prime-line');
  polyline(ax, seriesTimes(frBt), frBt, '#000000', 'b-magnitude-line');
  frame(ax); timeAxis(ax); yTicks(ax, bTicks, bTickLabels, 16);
  title(ax, 'Magnetic Field (Flux Rope Frame)');
  yLabel(ax, 'B(nT)', 64);
  legendBox(1601, 1598, 75, 94, [{c: '#f00', t: "Bx'"}, {c: '#008000', t: "By'"}, {c: '#00f', t: "Bz'"}, {c: '#000', t: '|B|'}], 'legend');
})();
// Pitch angle distribution
(function () {
  const ax = tsAxes('pitch-angle-distribution-chart', 2, [0, 180]);
  const nRows = padRows.length;
  padRows.forEach((segs, r) => {
    const row = segs.join('');
    const a1 = 180 - r * 180 / nRows, a0 = 180 - (r + 1) * 180 / nRows;
    for (let c = 0; c < row.length; c++) {
      const lev = +row[c];
      if (!lev) continue;
      const t0 = c * timeStepMin, t1 = t0 + timeStepMin;
      const x = ax.sx(t0), y = ax.sy(a1);
      const cell = el('rect', {x: x.toFixed(1), y: y.toFixed(1), width: (ax.sx(t1) - x + 0.6).toFixed(1), height: (ax.sy(a0) - y + 0.6).toFixed(1), fill: padColors[lev]}, ax.plot);
      
      
    }
  });
  frame(ax); timeAxis(ax); yTicks(ax, padTicks, padTicks.map(String), 16);
  title(ax, 'Suprathermal Electrons Pitch Angle Distribution (96.71eV)');
  yLabel(ax, 'pitch angle (deg)', 64);
  const cb = el('g', {});
  
  
  const cy0 = ax.y0, ch = ax.h;
  el('rect', {x: 1696, y: cy0, width: 9, height: ch, fill: 'url(#jet)', stroke: '#000', 'stroke-width': 1}, cb);
  cbLabels.forEach((s, i) => {
    const y = cy0 + ch * i / (cbLabels.length - 1);
    el('line', {x1: 1696, x2: 1705, y1: y, y2: y, stroke: '#000', 'stroke-width': 1}, cb);
    const t = txt(1710, y + 7, '', {'font-size': 16}, cb);
    t.innerHTML = '10<tspan font-size="11" dy="-8">' + s.replace('-', '\u2212') + '</tspan>';
    
    
  });
})();
// Solar wind velocity
(function () {
  const ax = tsAxes('solar-wind-velocity-chart', 3, [-500, 100]);
  polyline(ax, seriesTimes(velVx), velVx, '#ff0000', 'vx-line');
  polyline(ax, seriesTimes(velVy), velVy, '#008000', 'vy-line');
  polyline(ax, seriesTimes(velVz), velVz, '#0000ff', 'vz-line');
  frame(ax); timeAxis(ax);
  const vt = [-500, -400, -300, -200, -100, 0, 100];
  yTicks(ax, vt, vt.map(v => v < 0 ? '\u2212' + (-v) : '' + v), 16);
  title(ax, 'Solar Wind Velocity (GSE Frame)');
  yLabel(ax, 'Vsw(km/s)', 50);
  legendBox(1605, 2167, 71, 71, [{c: '#f00', t: 'Vx'}, {c: '#008000', t: 'Vy'}, {c: '#00f', t: 'Vz'}], 'legend');
})();
// Plasma beta
(function () {
  const ax = tsAxes('plasma-beta-chart', 4, [0, 5]);
  polyline(ax, seriesTimes(betaP), betaP, '#0000ff', 'beta-p-line');
  polyline(ax, seriesTimes(betaT), betaT, '#008000', 'beta-line');
  frame(ax); timeAxis(ax);
  const bt = [0, 1, 2, 3, 4, 5];
  yTicks(ax, bt, bt.map(String), 16);
  title(ax, 'Plasma Beta');
  const yl = yLabel(ax, '', 68, 15);
  yl.innerHTML = '<tspan font-style="italic">\u03b2</tspan><tspan font-size="10" font-style="italic" dy="3">p</tspan><tspan dy="-3"> and </tspan><tspan font-style="italic">\u03b2</tspan>';
  legendBox(1608, 2446, 68, 56, [{c: '#00f', t: '\u03b2\u209a', it: true, tc: '#666'}, {c: '#008000', t: '\u03b2', it: true, tc: '#666'}], 'legend');
})();
// Proton density
(function () {
  const ax = tsAxes('proton-density-chart', 5, [0, 30]);
  polyline(ax, seriesTimes(densNp), densNp, '#0000ff', 'density-line');
  frame(ax); timeAxis(ax);
  const dt = [0, 5, 10, 15, 20, 25, 30];
  yTicks(ax, dt, dt.map(String), 16);
  title(ax, 'Proton Number Density');
  yLabel(ax, 'Np(#/cc)', 64);
})();
// Proton temperature and Te/Tp
(function () {
  const ax = tsAxes('proton-temperature-chart', 6, [0, 0.5]);
  const ax2 = makeAxes('te-tp-axis', TSX, TSTOP + TSSTEP * 6, TSW, TSH, TDOM, [0, 5]);
  polyline(ax2, seriesTimes(tempRatio), tempRatio, '#ff0000', 'te-tp-line');
  polyline(ax, seriesTimes(tempTp), tempTp, '#0000ff', 'tp-line');
  frame(ax); timeAxis(ax);
  const tt = [0, 0.1, 0.2, 0.3, 0.4, 0.5];
  yTicks(ax, tt, tt.map(v => v.toFixed(1)), 16);
  const rt = [0, 1, 2, 3, 4, 5];
  rt.forEach(v => {
    const t = txt(ax2.x0 + ax2.w + 8, ax2.sy(v) + 6, '' + v, {'font-size': 16, fill: '#ff0000'}, ax2.g);
    
    
  });
  const tl = title(ax, '');
  tl.innerHTML = 'Proton Temperature and <tspan font-style="italic" font-family="Liberation Serif, serif">T</tspan><tspan font-size="14" font-style="italic" dy="5">e</tspan><tspan dy="-5" font-style="italic" font-family="Liberation Serif, serif">/T</tspan><tspan font-size="14" font-style="italic" dy="5">p</tspan>';
  const yl = yLabel(ax, '', 60);
  yl.innerHTML = 'Tp(10<tspan font-size="11" dy="-6">6</tspan><tspan dy="6">K)</tspan>';
  const yr = yLabel(ax2, '', 1740, 15, '#ff0000');
  yr.innerHTML = '<tspan font-style="italic">T</tspan><tspan font-size="10" dy="3">e</tspan><tspan dy="-3" font-style="italic">/T</tspan><tspan font-size="10" dy="3">p</tspan>';
  legendBox(123, 3013, 72, 27, [{c: '#00f', t: 'Tp'}], 'legend');
  legendBox(1586, 3016, 90, 32, [{c: '#f00', t: 'Te/Tp', it: true}], 'legend');
})();
</script>
</body></html>
